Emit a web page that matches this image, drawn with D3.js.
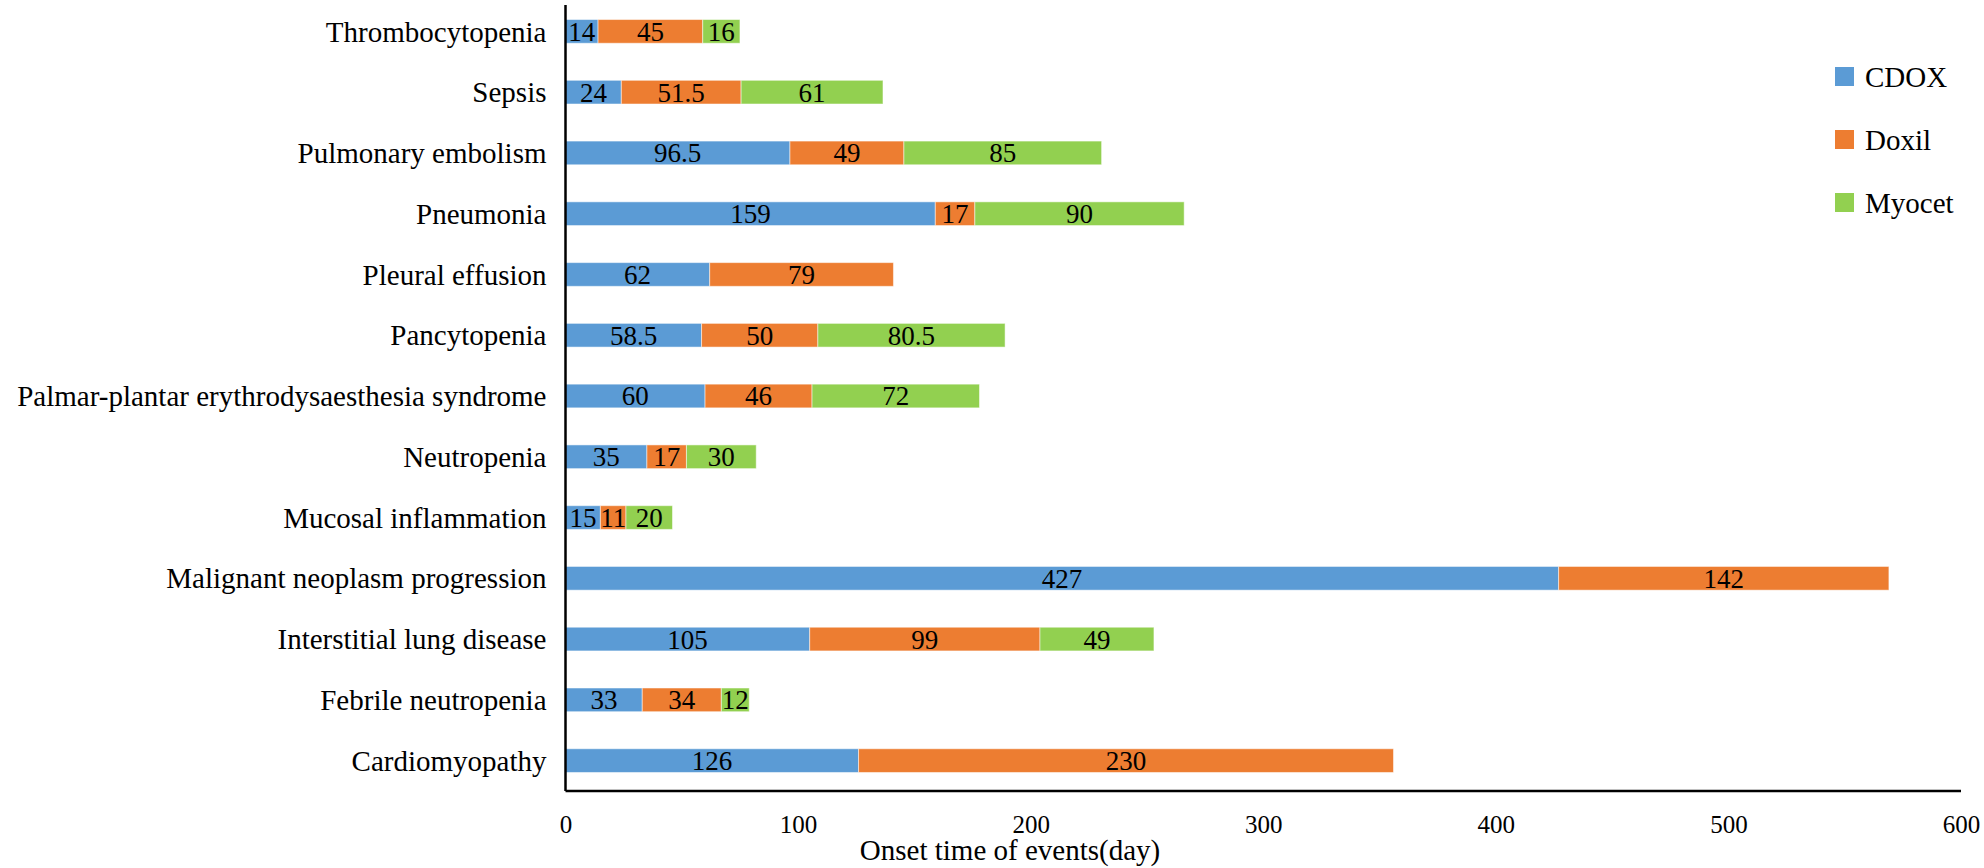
<!DOCTYPE html>
<html>
<head>
<meta charset="utf-8">
<script src="https://cdnjs.cloudflare.com/ajax/libs/d3/7.8.5/d3.min.js"></script>
<style>
  body { margin: 0; background: #fff; }
  text { font-family: "Liberation Serif", "Times New Roman", serif; fill: #000; }
</style>
</head>
<body>
<div id="chart"></div>
<script>
// categories top to bottom
var categories = [
  "Thrombocytopenia",
  "Sepsis",
  "Pulmonary embolism",
  "Pneumonia",
  "Pleural effusion",
  "Pancytopenia",
  "Palmar-plantar erythrodysaesthesia syndrome",
  "Neutropenia",
  "Mucosal inflammation",
  "Malignant neoplasm progression",
  "Interstitial lung disease",
  "Febrile neutropenia",
  "Cardiomyopathy"
];
var seriesNames = ["CDOX", "Doxil", "Myocet"];
var cdox = [14, 24, 96.5, 159, 62, 58.5, 60, 35, 15, 427, 105, 33, 126];
var doxil = [45, 51.5, 49, 17, 79, 50, 46, 17, 11, 142, 99, 34, 230];
var myocet = [16, 61, 85, 90, 0, 80.5, 72, 30, 20, 0, 49, 12, 0];
var xTicks = [0, 100, 200, 300, 400, 500, 600];
var colors = ["#5b9bd5", "#ed7d31", "#92d050"];

var width = 1984;
var height = 868;
var margin = { top: 1, right: 23, bottom: 77, left: 565.5 };
var chartWidth = width - margin.left - margin.right;
var chartHeight = height - margin.top - margin.bottom;

var rows = categories.map(function(c, i) {
  return { category: c, CDOX: cdox[i], Doxil: doxil[i], Myocet: myocet[i] };
});

var svg = d3
  .select("#chart")
  .append("svg")
  .attr("width", width)
  .attr("height", height);

var g = svg
  .append("g")
  .attr("transform", "translate(" + margin.left + "," + margin.top + ")");

var xScale = d3.scaleLinear().domain([0, 600]).range([0, chartWidth]);
var yScale = d3
  .scaleBand()
  .domain(categories)
  .range([0, chartHeight])
  .paddingInner(0.61)
  .paddingOuter(0.305);

var stack = d3.stack().keys(seriesNames)(rows);

var layers = g
  .selectAll(".layer")
  .data(stack)
  .enter()
  .append("g")
  .attr("class", "layer")
  .attr("fill", function(d, i) {
    return colors[i];
  });

layers
  .selectAll("rect")
  .data(function(d) {
    return d.filter(function(s) {
      return s[1] - s[0] > 0;
    });
  })
  .enter()
  .append("rect")
  .attr("x", function(d) {
    return xScale(d[0]);
  })
  .attr("y", function(d) {
    return yScale(d.data.category);
  })
  .attr("width", function(d) {
    return xScale(d[1]) - xScale(d[0]);
  })
  .attr("height", yScale.bandwidth())
  .attr("stroke", "rgba(255,255,255,0.5)")
  .attr("stroke-width", 1);

// value labels inside segments
layers
  .selectAll(".val")
  .data(function(d) {
    return d.filter(function(s) {
      return s[1] - s[0] > 0;
    });
  })
  .enter()
  .append("text")
  .attr("class", "val")
  .attr("x", function(d) {
    return xScale((d[0] + d[1]) / 2);
  })
  .attr("y", function(d) {
    return yScale(d.data.category) + yScale.bandwidth() / 2;
  })
  .attr("dy", "0.35em")
  .attr("text-anchor", "middle")
  .style("font-size", "27px")
  .text(function(d) {
    return d[1] - d[0];
  });

// category labels
g.selectAll(".cat")
  .data(categories)
  .enter()
  .append("text")
  .attr("class", "cat")
  .attr("x", -19)
  .attr("y", function(d) {
    return yScale(d) + yScale.bandwidth() / 2;
  })
  .attr("dy", "0.35em")
  .attr("text-anchor", "end")
  .style("font-size", "29px")
  .text(function(d) {
    return d;
  });

// axes lines
g.append("line")
  .attr("x1", 0)
  .attr("x2", 0)
  .attr("y1", 4)
  .attr("y2", chartHeight)
  .attr("stroke", "#000")
  .attr("stroke-width", 2.5);

g.append("line")
  .attr("x1", 0)
  .attr("x2", chartWidth)
  .attr("y1", chartHeight)
  .attr("y2", chartHeight)
  .attr("stroke", "#000")
  .attr("stroke-width", 2.5);

var xAxis = d3.axisBottom(xScale).tickValues(xTicks).tickSize(0).tickPadding(24);
var xg = g
  .append("g")
  .attr("transform", "translate(0," + chartHeight + ")")
  .call(xAxis);
xg.select(".domain").remove();
xg.selectAll("text")
  .style("font-size", "25px")
  .style("font-family", "Liberation Serif, serif");

svg
  .append("text")
  .attr("x", 1010)
  .attr("y", 860)
  .attr("text-anchor", "middle")
  .style("font-size", "29px")
  .text("Onset time of events(day)");

// legend
var legend = svg
  .selectAll(".legend")
  .data(seriesNames)
  .enter()
  .append("g")
  .attr("class", "legend")
  .attr("transform", function(d, i) {
    return "translate(1835," + (67 + i * 63) + ")";
  });

legend
  .append("rect")
  .attr("width", 19)
  .attr("height", 19)
  .attr("fill", function(d, i) {
    return colors[i];
  });

legend
  .append("text")
  .attr("x", 30)
  .attr("y", 10)
  .attr("dy", "0.35em")
  .style("font-size", "29px")
  .text(function(d) {
    return d;
  });
</script>
</body>
</html>
